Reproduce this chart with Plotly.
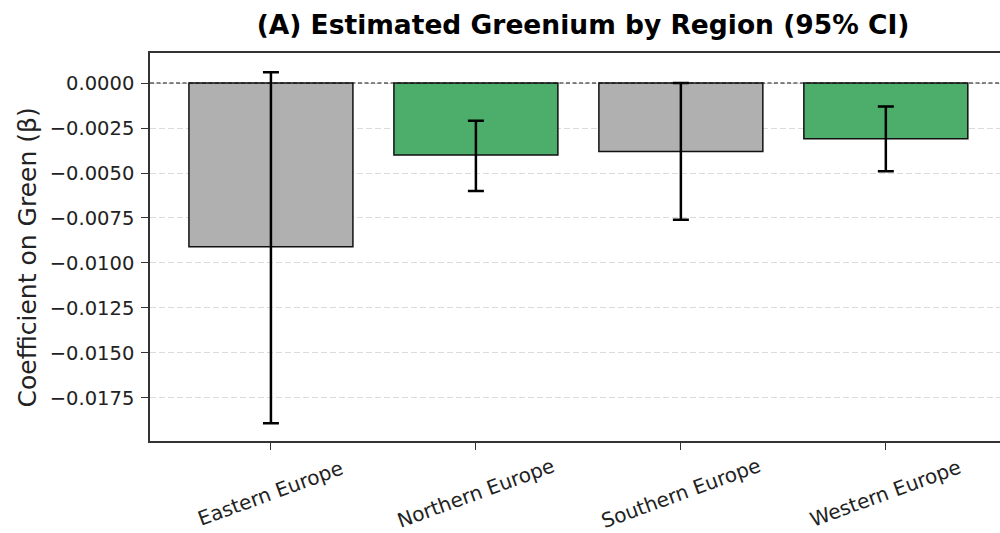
import plotly.graph_objects as go

regions = ["Eastern Europe", "Northern Europe", "Southern Europe", "Western Europe"]
beta = [-0.0091, -0.0040, -0.0038, -0.0031]
ci_low = [-0.0189, -0.0060, -0.0076, -0.0049]
ci_high = [0.0006, -0.0021, 0.0000, -0.0013]
bar_colors = ["#b0b0b0", "#4dae6c", "#b0b0b0", "#4dae6c"]
ytick_vals = [0.0, -0.0025, -0.005, -0.0075, -0.01, -0.0125, -0.015, -0.0175]
y_label = "Coefficient on Green (\u03b2)"
title_text = "(A) Estimated Greenium by Region (95% CI)"

xs = list(range(len(regions)))
err_plus = [h - b for h, b in zip(ci_high, beta)]
err_minus = [b - l for b, l in zip(beta, ci_low)]

FONT = "DejaVu Sans"

fig = go.Figure()
fig.add_trace(go.Bar(
    x=xs, y=beta, width=0.8,
    marker=dict(color=bar_colors, line=dict(color="#111111", width=1.5)),
    error_y=dict(type="data", symmetric=False, array=err_plus, arrayminus=err_minus,
                 color="black", thickness=2.5, width=8),
    showlegend=False,
))

fig.add_shape(type="line", xref="paper", yref="y", x0=0, x1=1, y0=0, y1=0,
              line=dict(color="#111111", width=1.2, dash="4px,2.5px"), layer="above")

for i, r in enumerate(regions):
    fig.add_annotation(x=i, xref="x", y=-0.134, yref="paper", yanchor="middle",
                       text=r, showarrow=False, textangle=-20,
                       font=dict(family=FONT, size=20, color="#222222"))

fig.add_annotation(x=(27 - 150) / 850, xref="paper", xanchor="center",
                   y=(441 - 257.5) / 388, yref="paper", yanchor="middle",
                   text=y_label, showarrow=False, textangle=-90,
                   font=dict(family=FONT, size=25, color="#222222"))

fig.update_layout(
    width=1000, height=533,
    margin=dict(l=150, r=0, t=53, b=92),
    paper_bgcolor="white", plot_bgcolor="white",
    font=dict(family=FONT, color="#222222"),
    title=dict(text="<b>" + title_text + "</b>",
               x=0.583, xref="container", xanchor="center",
               y=1 - 25 / 533, yref="container", yanchor="middle",
               font=dict(family=FONT, size=26.5, color="black")),
    bargap=0.2,
)
fig.update_xaxes(
    range=[-0.59, 3.557], showticklabels=False, tickvals=xs,
    ticks="outside", ticklen=7, tickcolor="#333333",
    showline=True, linecolor="#333333", linewidth=1.5, mirror=True,
    showgrid=False, zeroline=False,
)
fig.update_yaxes(
    range=[-0.01989, 0.001667], tickvals=ytick_vals,
    ticktext=[("\u2212" if v < 0 else "") + f"{abs(v):.4f}" for v in ytick_vals],
    tickfont=dict(family=FONT, size=19.5, color="#222222"),
    ticks="outside", ticklen=7, tickcolor="#333333", ticklabelstandoff=3,
    showline=True, linecolor="#333333", linewidth=1.5, mirror=False,
    showgrid=True, gridcolor="rgba(215,215,215,0.9)", griddash="6px,3px", gridwidth=1,
    zeroline=False, layer="above traces",
)

fig.write_html(
    "out.html",
    config={"displayModeBar": False},
    post_script="document.body.style.margin='0';document.body.style.overflow='hidden';",
)
